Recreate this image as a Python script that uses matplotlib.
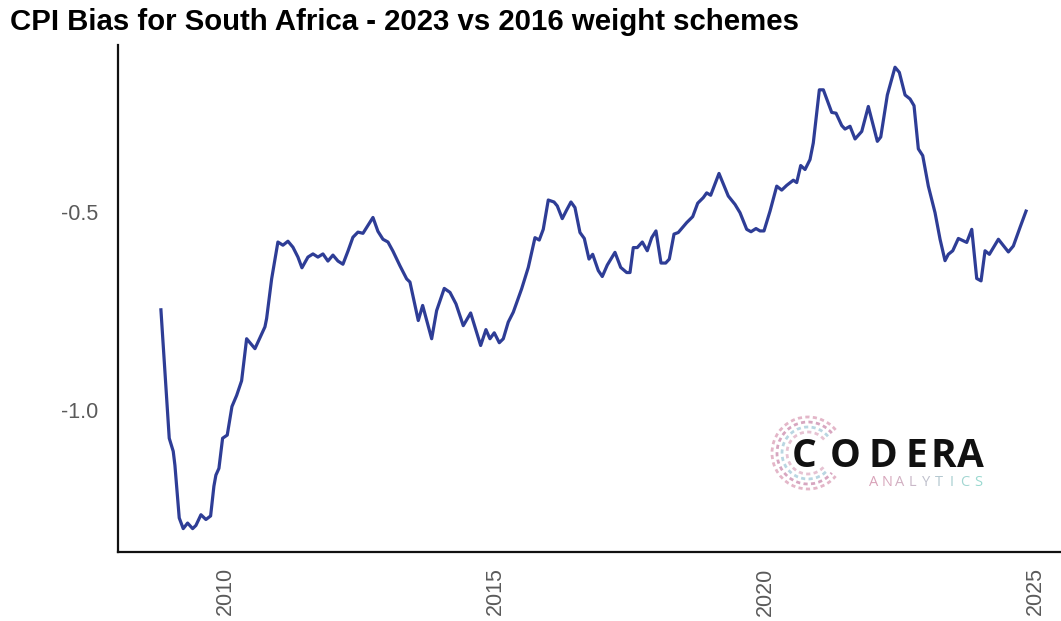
import numpy as np
import matplotlib
matplotlib.use("Agg")
import matplotlib.pyplot as plt
from matplotlib.patches import Arc

# ---- data (decimal year, bias) ----
years = [2008.815, 2008.969, 2009.043, 2009.074, 2009.154, 2009.228, 2009.309, 2009.402,
         2009.463, 2009.556, 2009.648, 2009.735, 2009.796, 2009.833, 2009.889, 2009.957,
         2010.043, 2010.130, 2010.217, 2010.309, 2010.402, 2010.556, 2010.741, 2010.772,
         2010.865, 2010.981, 2011.074, 2011.167, 2011.259, 2011.352, 2011.426, 2011.537,
         2011.630, 2011.722, 2011.815, 2011.907, 2012.000, 2012.093, 2012.185, 2012.278,
         2012.370, 2012.463, 2012.556, 2012.648, 2012.741, 2012.833, 2012.926, 2013.019,
         2013.111, 2013.241, 2013.365, 2013.426, 2013.580, 2013.661, 2013.828, 2013.920,
         2014.061, 2014.167, 2014.278, 2014.413, 2014.550, 2014.735, 2014.833, 2014.907,
         2014.987, 2015.080, 2015.154, 2015.246, 2015.339, 2015.494, 2015.617, 2015.741,
         2015.820, 2015.894, 2015.987, 2016.093, 2016.154, 2016.246, 2016.328, 2016.407,
         2016.481, 2016.574, 2016.654, 2016.741, 2016.809, 2016.913, 2016.987, 2017.080,
         2017.222, 2017.328, 2017.439, 2017.500, 2017.561, 2017.635, 2017.728, 2017.820,
         2017.902, 2017.981, 2018.074, 2018.161, 2018.228, 2018.315, 2018.394, 2018.550,
         2018.661, 2018.754, 2018.857, 2018.920, 2018.994, 2019.106, 2019.148, 2019.320,
         2019.444, 2019.537, 2019.661, 2019.741, 2019.833, 2019.907, 2019.981, 2020.093,
         2020.217, 2020.309, 2020.402, 2020.524, 2020.587, 2020.661, 2020.741, 2020.833,
         2020.894, 2021.006, 2021.080, 2021.235, 2021.315, 2021.420, 2021.481, 2021.574,
         2021.667, 2021.791, 2021.913, 2022.080, 2022.143, 2022.265, 2022.407, 2022.487,
         2022.593, 2022.685, 2022.759, 2022.839, 2022.920, 2023.024, 2023.148, 2023.241,
         2023.333, 2023.394, 2023.476, 2023.580, 2023.735, 2023.828, 2023.920, 2024.000,
         2024.074, 2024.154, 2024.321, 2024.506, 2024.598, 2024.722, 2024.833]
bias = [-0.746, -1.070, -1.103, -1.138, -1.271, -1.298, -1.284, -1.298,
        -1.290, -1.263, -1.275, -1.266, -1.191, -1.163, -1.146, -1.070,
        -1.062, -0.990, -0.962, -0.925, -0.819, -0.844, -0.789, -0.768,
        -0.668, -0.575, -0.583, -0.573, -0.588, -0.613, -0.640, -0.613,
        -0.605, -0.613, -0.605, -0.623, -0.608, -0.623, -0.631, -0.598,
        -0.563, -0.550, -0.553, -0.533, -0.513, -0.548, -0.568, -0.575,
        -0.598, -0.635, -0.668, -0.676, -0.773, -0.735, -0.819, -0.748,
        -0.692, -0.702, -0.731, -0.786, -0.754, -0.836, -0.796, -0.819,
        -0.804, -0.829, -0.819, -0.777, -0.752, -0.693, -0.639, -0.564,
        -0.570, -0.543, -0.469, -0.474, -0.484, -0.516, -0.494, -0.474,
        -0.488, -0.551, -0.566, -0.618, -0.606, -0.647, -0.662, -0.633,
        -0.601, -0.639, -0.652, -0.652, -0.589, -0.589, -0.575, -0.597,
        -0.564, -0.547, -0.628, -0.628, -0.618, -0.555, -0.551, -0.526,
        -0.511, -0.477, -0.463, -0.451, -0.457, -0.417, -0.402, -0.459,
        -0.480, -0.501, -0.543, -0.549, -0.541, -0.547, -0.547, -0.497,
        -0.434, -0.444, -0.432, -0.419, -0.425, -0.382, -0.392, -0.367,
        -0.325, -0.191, -0.191, -0.248, -0.250, -0.281, -0.290, -0.283,
        -0.315, -0.296, -0.233, -0.321, -0.310, -0.204, -0.134, -0.147,
        -0.204, -0.214, -0.231, -0.340, -0.357, -0.434, -0.501, -0.568,
        -0.622, -0.606, -0.597, -0.566, -0.576, -0.543, -0.667, -0.673,
        -0.597, -0.606, -0.568, -0.600, -0.585, -0.538, -0.497]

xticks = [2010, 2015, 2020, 2025]
yticks = [-1.0, -0.5]
ytick_labels = ["-1.0", "-0.5"]

plt.rcParams['font.family'] = ['Liberation Sans', 'DejaVu Sans']

fig = plt.figure(figsize=(10.61, 6.21), dpi=100)
ax = fig.add_axes([0.1112, 0.1111, 0.8954, 0.8164])

ax.plot(years, bias, color="#2e3d96", lw=2.3, solid_joinstyle="round")

ax.set_xlim(2008.02, 2025.61)
ax.set_ylim(-1.357, -0.078)
ax.set_xticks(xticks)
ax.set_xticklabels([str(y) for y in xticks], rotation=90)
ax.set_yticks(yticks)
ax.set_yticklabels(ytick_labels)
ax.tick_params(axis="both", length=0, labelsize=15.5, labelcolor="#5a5a5a")
ax.tick_params(axis="y", pad=14)
ax.tick_params(axis="x", pad=11)
for s in ["top", "right"]:
    ax.spines[s].set_visible(False)
for s in ["left", "bottom"]:
    ax.spines[s].set_linewidth(1.6)
    ax.spines[s].set_color("#111111")

fig.text(0.0094, 0.952, "CPI Bias for South Africa - 2023 vs 2016 weight schemes",
         fontsize=21.2, fontweight="bold", va="baseline", ha="left")

# logo
cx, cy = 808 / 1061, 1 - 453 / 621
for r, c in [(36, "#e3b6c8"), (31, "#d7a6c0"), (26, "#b9d6e2"), (21, "#e6c2d2")]:
    fig.add_artist(Arc((cx, cy), 2 * r / 1061, 2 * r / 621, theta1=55, theta2=305,
                       transform=fig.transFigure, color=c, lw=2.0, ls=(0, (1.5, 1.2))))
word = "CODERA"
word_x = [0.7575, 0.7965, 0.8325, 0.8635, 0.8895, 0.9145]
for ch, xx in zip(word, word_x):
    fig.text(xx, 0.248, ch, fontsize=28, fontweight="bold", family="Open Sans",
             color="#111111", va="baseline", ha="center")
letters = "ANALYTICS"
cols = ["#d9a3b9", "#d8a8bd", "#d2b0c2", "#c9b8c8", "#bfc0cc", "#b4c8d0",
        "#a9d0d2", "#a2d6d2", "#9ad9d0"]
for k, (ch, c) in enumerate(zip(letters, cols)):
    fig.text(0.8235 + k * 0.0123, 0.2174, ch, fontsize=10.5, color=c,
             family="Open Sans", va="baseline", ha="center")

fig.savefig("out.png", dpi=100)
